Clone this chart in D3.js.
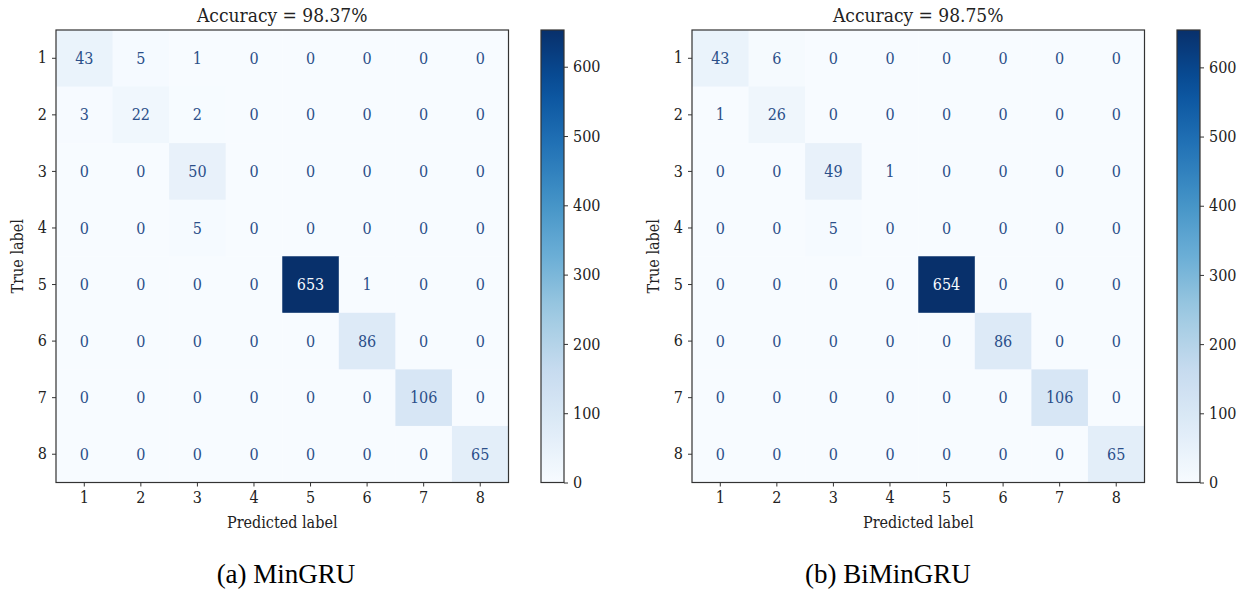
<!DOCTYPE html>
<html>
<head>
<meta charset="utf-8">
<script src="https://cdn.jsdelivr.net/npm/d3@7"></script>
<style>
  body { margin: 0; background: #fff; }
  svg text { font-family: "DejaVu Serif", serif; font-stretch: condensed; }
  svg text.caption { font-family: "Liberation Serif", "Times New Roman", Tinos, serif; font-stretch: normal; }
</style>
</head>
<body>
<div id="chart"></div>
<script>
// class labels
const labels = ["1", "2", "3", "4", "5", "6", "7", "8"];

// MinGRU confusion matrix (rows = true label)
const minGruMatrix = [
  [43, 5, 1, 0, 0, 0, 0, 0],
  [3, 22, 2, 0, 0, 0, 0, 0],
  [0, 0, 50, 0, 0, 0, 0, 0],
  [0, 0, 5, 0, 0, 0, 0, 0],
  [0, 0, 0, 0, 653, 1, 0, 0],
  [0, 0, 0, 0, 0, 86, 0, 0],
  [0, 0, 0, 0, 0, 0, 106, 0],
  [0, 0, 0, 0, 0, 0, 0, 65]
];

// BiMinGRU confusion matrix
const biMinGruMatrix = [
  [43, 6, 0, 0, 0, 0, 0, 0],
  [1, 26, 0, 0, 0, 0, 0, 0],
  [0, 0, 49, 1, 0, 0, 0, 0],
  [0, 0, 5, 0, 0, 0, 0, 0],
  [0, 0, 0, 0, 654, 0, 0, 0],
  [0, 0, 0, 0, 0, 86, 0, 0],
  [0, 0, 0, 0, 0, 0, 106, 0],
  [0, 0, 0, 0, 0, 0, 0, 65]
];

const titles = ["Accuracy = 98.37%", "Accuracy = 98.75%"];
const captions = ["(a) MinGRU", "(b) BiMinGRU"];
const colorbarTicks = [0, 100, 200, 300, 400, 500, 600];

// matplotlib "Blues" anchor colours
const bluesStops = ["#f7fbff", "#deebf7", "#c6dbef", "#9ecae1", "#6baed6",
                    "#4292c6", "#2171b5", "#08519c", "#08306b"];

const width = 1251, height = 592;
const svg = d3.select("#chart").append("svg")
  .attr("width", width)
  .attr("height", height);

const panels = [
  {matrix: minGruMatrix, left: 56, cbLeft: 541, captionX: 286},
  {matrix: biMinGruMatrix, left: 692, cbLeft: 1177, captionX: 888}
];

const plotTop = 30, size = 452.5, cbWidth = 23;

panels.forEach((p, pi) => {
  const maxVal = d3.max(p.matrix.flat());
  const color = d3.scaleLinear()
    .domain(bluesStops.map((c, i) => i / (bluesStops.length - 1) * maxVal))
    .range(bluesStops)
    .interpolate(d3.interpolateRgb);

  const x = d3.scaleBand().domain(labels).range([p.left, p.left + size]);
  const y = d3.scaleBand().domain(labels).range([plotTop, plotTop + size]);

  const g = svg.append("g");

  const cells = [];
  p.matrix.forEach((row, r) => row.forEach((v, c) => cells.push({r, c, v})));

  g.selectAll("rect.cell")
    .data(cells)
    .enter().append("rect")
    .attr("class", "cell")
    .attr("x", d => x(labels[d.c]))
    .attr("y", d => y(labels[d.r]))
    .attr("width", x.bandwidth() + 0.5)
    .attr("height", y.bandwidth() + 0.5)
    .attr("fill", d => color(d.v));

  g.selectAll("text.val")
    .data(cells)
    .enter().append("text")
    .attr("class", "val")
    .attr("x", d => x(labels[d.c]) + x.bandwidth() / 2)
    .attr("y", d => y(labels[d.r]) + y.bandwidth() / 2)
    .attr("dy", "0.35em")
    .attr("text-anchor", "middle")
    .attr("font-size", 16)
    .attr("fill", d => d.v > maxVal / 2 ? "#f7fbff" : "#2b4f89")
    .text(d => d.v);

  // frame
  g.append("rect")
    .attr("x", p.left).attr("y", plotTop)
    .attr("width", size).attr("height", size)
    .attr("fill", "none").attr("stroke", "#333").attr("stroke-width", 1.2);

  const xAxis = g.append("g")
    .attr("transform", `translate(0,${plotTop + size})`)
    .call(d3.axisBottom(x).tickSize(4).tickPadding(5));
  const yAxis = g.append("g")
    .attr("transform", `translate(${p.left},0)`)
    .call(d3.axisLeft(y).tickSize(4).tickPadding(5));
  [xAxis, yAxis].forEach(a => {
    a.select(".domain").remove();
    a.selectAll("line").attr("stroke", "#333");
    a.selectAll("text").attr("font-size", 16).attr("fill", "#222")
      .style("font-family", "DejaVu Serif, serif");
  });

  g.append("text")
    .attr("x", p.left + size / 2).attr("y", 22)
    .attr("text-anchor", "middle").attr("font-size", 19).attr("fill", "#222")
    .text(titles[pi]);

  g.append("text")
    .attr("x", p.left + size / 2).attr("y", 528)
    .attr("text-anchor", "middle").attr("font-size", 16).attr("fill", "#222")
    .text("Predicted label");

  g.append("text")
    .attr("transform", `translate(${p.left - 33},${plotTop + size / 2}) rotate(-90)`)
    .attr("text-anchor", "middle").attr("font-size", 16).attr("fill", "#222")
    .text("True label");

  // colorbar
  const cbScale = d3.scaleLinear().domain([0, maxVal]).range([plotTop + size, plotTop]);
  const gradId = "grad" + pi;
  const grad = svg.append("defs").append("linearGradient")
    .attr("id", gradId).attr("x1", 0).attr("y1", 1).attr("x2", 0).attr("y2", 0);
  d3.range(0, 1.0001, 0.05).forEach(t => {
    grad.append("stop").attr("offset", t).attr("stop-color", color(t * maxVal));
  });
  g.append("rect")
    .attr("x", p.cbLeft).attr("y", plotTop)
    .attr("width", cbWidth).attr("height", size)
    .attr("fill", `url(#${gradId})`)
    .attr("stroke", "#333").attr("stroke-width", 1.2);

  const cbAxis = g.append("g")
    .attr("transform", `translate(${p.cbLeft + cbWidth},0)`)
    .call(d3.axisRight(cbScale).tickValues(colorbarTicks).tickSize(4).tickPadding(5));
  cbAxis.select(".domain").remove();
  cbAxis.selectAll("line").attr("stroke", "#333");
  cbAxis.selectAll("text").attr("font-size", 16).attr("fill", "#222")
    .style("font-family", "DejaVu Serif, serif");

  // sub-figure caption
  svg.append("text")
    .attr("class", "caption")
    .attr("x", p.captionX).attr("y", 583)
    .attr("text-anchor", "middle")
    .attr("font-size", 27).attr("fill", "#000")
    .text(captions[pi]);
});
</script>
</body>
</html>
